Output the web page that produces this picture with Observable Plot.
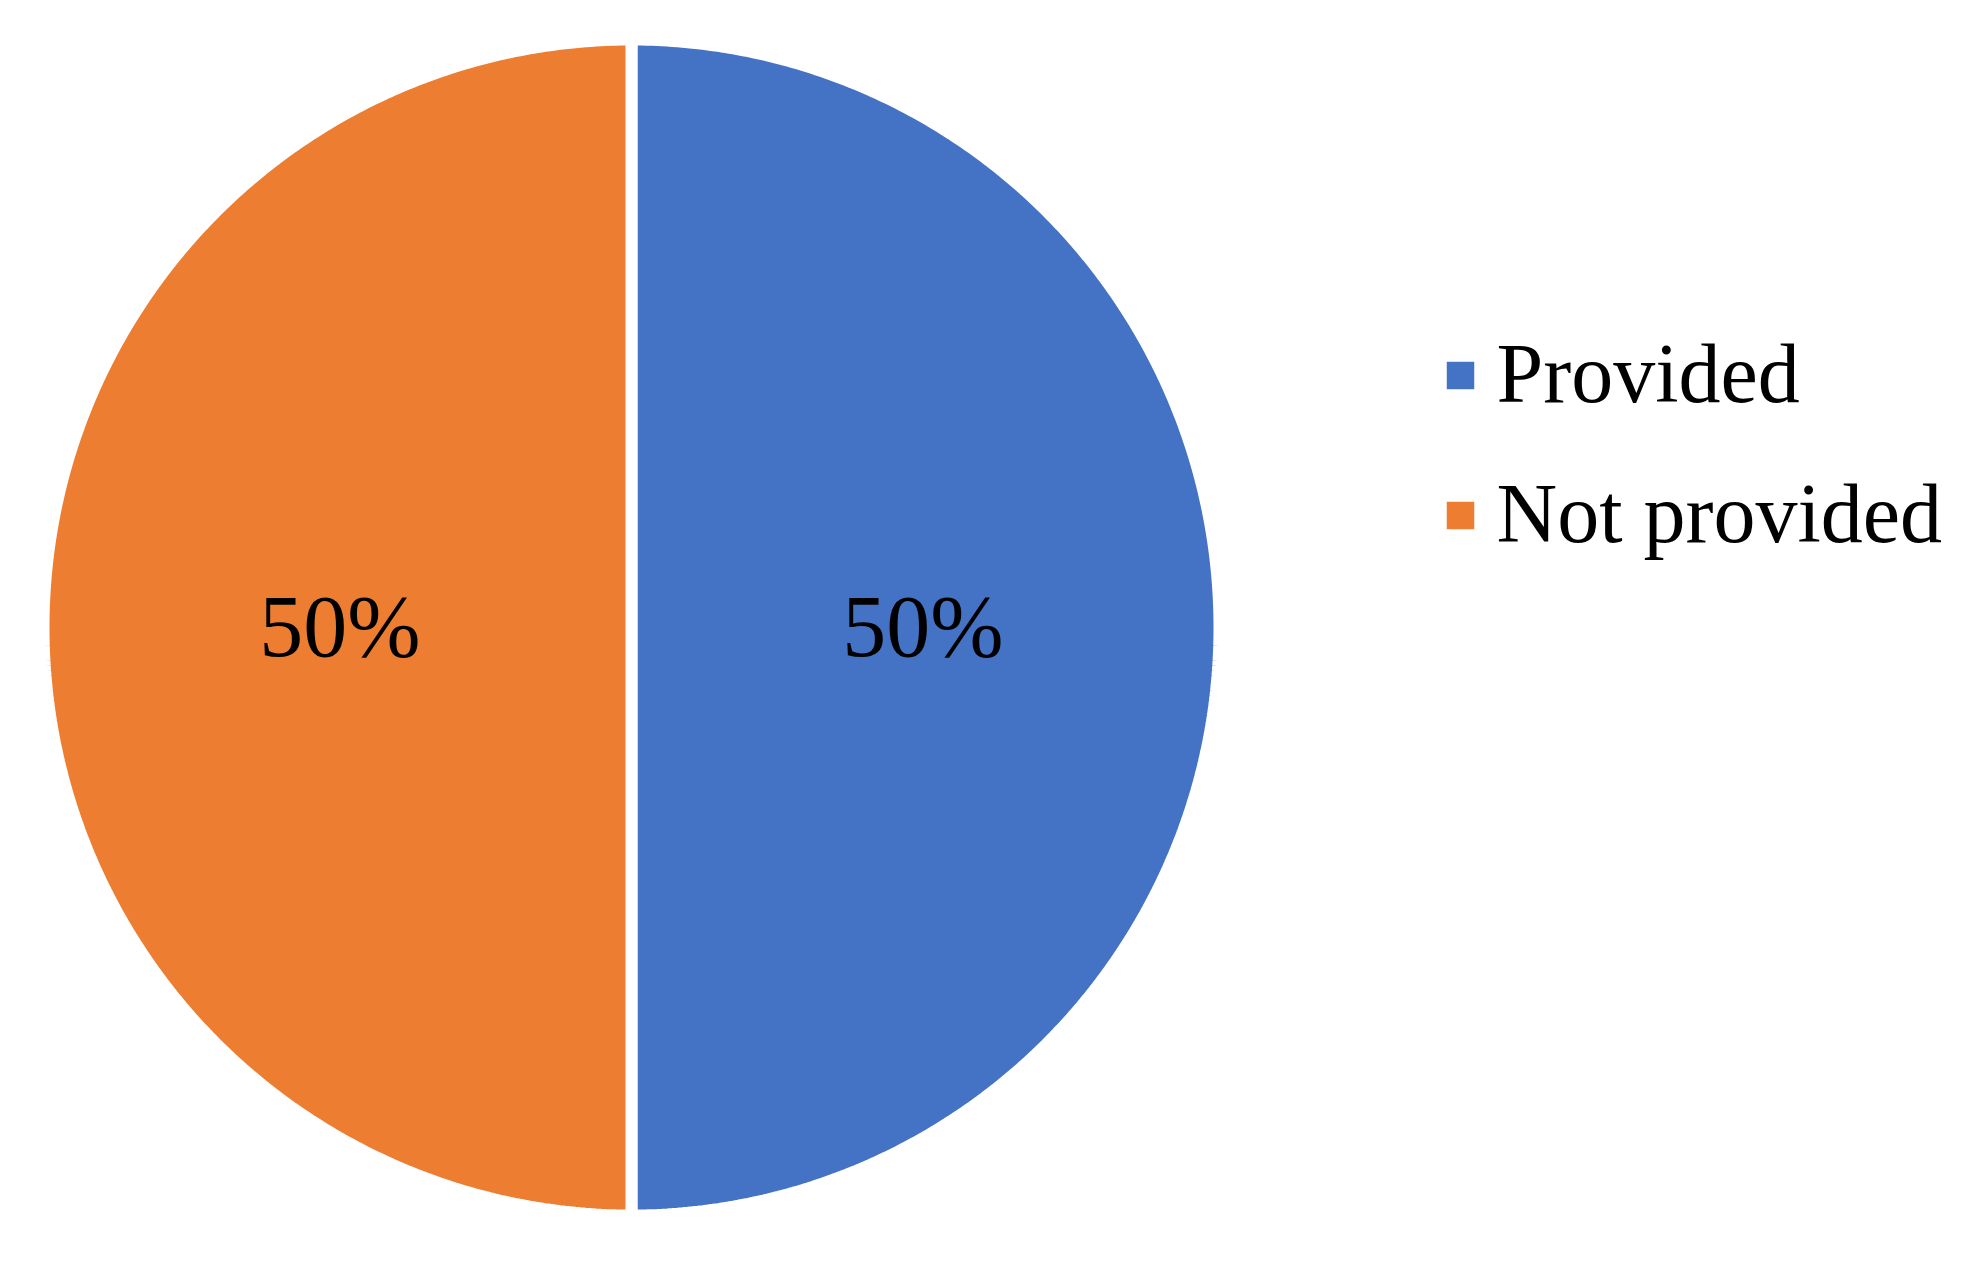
<!DOCTYPE html>
<html>
<head>
<meta charset="utf-8">
<script src="https://cdn.jsdelivr.net/npm/d3@7"></script>
<script src="https://cdn.jsdelivr.net/npm/@observablehq/plot@0.6"></script>
<style>
  html, body { margin: 0; padding: 0; background: #ffffff; }
  #chart svg { display: block; }
</style>
</head>
<body>
<div id="chart"></div>
<script>
// Data
const categories = ["Provided", "Not provided"];
const values = [50, 50];
const labels = ["50%", "50%"];
const colors = ["#4472C4", "#ED7D31"];

// Layout constants
const W = 1980, H = 1266;
const cx = 631, cy = 627, R = 588;
const font = "'Liberation Serif', 'Times New Roman', serif";

const table = categories.map((c, i) => ({category: c, value: values[i], label: labels[i]}));

// Pie angles (clockwise from 12 o'clock, like Excel)
const arcs = d3.pie().sort(null).value(d => d.value).startAngle(0).endAngle(2 * Math.PI)(table);

const polyPts = [];
arcs.forEach(a => {
  const n = Math.max(2, Math.ceil((a.endAngle - a.startAngle) / (Math.PI / 360)));
  polyPts.push({category: a.data.category, x: cx, y: cy});
  for (let k = 0; k <= n; k++) {
    const t = a.startAngle + (a.endAngle - a.startAngle) * k / n;
    polyPts.push({category: a.data.category, x: cx + R * Math.sin(t), y: cy - R * Math.cos(t)});
  }
  polyPts.push({category: a.data.category, x: cx, y: cy});
});

const labelPts = arcs.map(a => {
  const m = (a.startAngle + a.endAngle) / 2;
  return {label: a.data.label, x: cx + 0.5 * 583 * Math.sin(m), y: cy - 0.5 * 583 * Math.cos(m)};
});

const legendX = 1460, legendY0 = 375, legendStep = 140;
const legendRows = categories.map((c, i) => ({category: c, x: legendX, y: legendY0 + i * legendStep}));

const chart = Plot.plot({
  width: W,
  height: H,
  margin: 0,
  x: {domain: [0, W], range: [0, W], axis: null},
  y: {domain: [0, H], range: [0, H], axis: null},
  color: {domain: categories, range: colors},
  style: {background: "#ffffff"},
  marks: [
    Plot.line(polyPts, {x: "x", y: "y", z: "category", fill: "category", stroke: "#ffffff", strokeWidth: 12, strokeLinejoin: "miter", curve: "linear"}),
    Plot.text(labelPts, {x: "x", y: "y", text: "label", fontSize: 88, fontFamily: font, fill: "#000000"}),
    Plot.dot(legendRows, {x: "x", y: "y", fill: "category", symbol: "square", r: 15.5}),
    Plot.text(legendRows, {x: d => d.x + 36, y: "y", text: "category", textAnchor: "start", fontSize: 84, fontFamily: font, fill: "#000000"})
  ]
});

document.getElementById("chart").appendChild(chart);
</script>
</body>
</html>
